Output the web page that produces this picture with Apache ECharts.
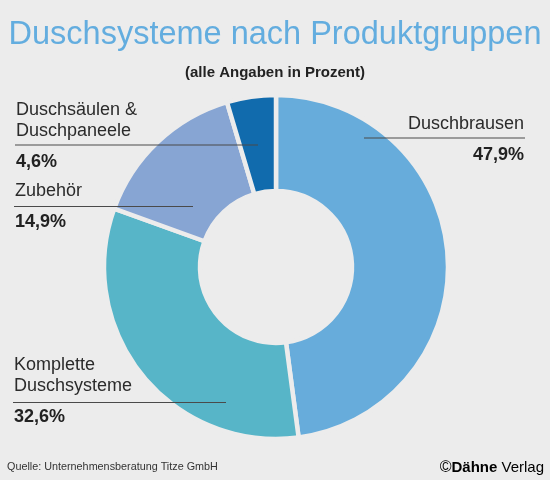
<!DOCTYPE html>
<html>
<head>
<meta charset="utf-8">
<title>Duschsysteme nach Produktgruppen</title>
<script src="https://cdn.jsdelivr.net/npm/echarts@6/dist/echarts.min.js"></script>
<style>
  html, body { margin: 0; padding: 0; background: #ececec; }
  #chart { width: 550px; height: 480px; }
</style>
</head>
<body>
<div id="chart"></div>
<script>
// Daten (im Uhrzeigersinn ab 12 Uhr)
var categories = ['Duschbrausen', 'Komplette\nDuschsysteme', 'Zubehör', 'Duschsäulen &\nDuschpaneele'];
var values = [47.9, 32.6, 14.9, 4.6];
var colors = ['#67acdb', '#57b5c8', '#87a5d3', '#116bad'];

// Position der Beschriftungen: [x, oben, Ausrichtung, Linie y, Linie von x, Linie bis x]
var labelPos = [
  [524, 113.5, 'right', 138, 364, 525],
  [14, 355, 'left', 402.5, 226, 13],
  [15, 181, 'left', 206.5, 193, 14],
  [16, 99.5, 'left', 145, 258, 15]
];

function fmt(v) {
  return v.toFixed(1).replace('.', ',') + '%';
}

var pieData = categories.map(function (c, i) {
  return { name: c, value: values[i] };
});

var chart = echarts.init(document.getElementById('chart'));

chart.setOption({
  backgroundColor: '#ececec',
  animation: false,
  title: {
    text: 'Duschsysteme nach Produktgruppen',
    subtext: '(alle Angaben in Prozent)',
    left: 'center',
    top: 14,
    itemGap: 13,
    textStyle: {
      fontFamily: 'Liberation Sans',
      fontSize: 32.5,
      fontWeight: 'normal',
      color: '#63addf'
    },
    subtextStyle: {
      fontFamily: 'Liberation Sans',
      fontSize: 15,
      fontWeight: 'bold',
      color: '#222'
    }
  },
  graphic: [
    {
      type: 'text',
      left: 7,
      top: 462,
      style: {
        text: 'Quelle: Unternehmensberatung Titze GmbH',
        font: '10.8px "Liberation Sans"',
        fill: '#333'
      }
    },
    {
      type: 'text',
      right: 6,
      top: 460,
      style: {
        text: '{c|©}{d|Dähne}{v| Verlag}',
        rich: {
          c: { fontFamily: 'Liberation Sans', fontSize: 16, color: '#555' },
          d: { fontFamily: 'Liberation Sans', fontSize: 15, fontWeight: 'bold', color: '#b8143c' },
          v: { fontFamily: 'Liberation Sans', fontSize: 15, color: '#6b6b6b' }
        }
      }
    }
  ],
  series: [
    {
      // Ringsegmente
      type: 'pie',
      z: 2,
      center: [276, 267],
      radius: [76, 172],
      startAngle: 90,
      clockwise: true,
      itemStyle: {
        borderColor: '#ececec',
        borderWidth: 4.5
      },
      label: { show: false },
      labelLine: { show: false },
      data: pieData.map(function (d, i) {
        return { name: d.name, value: d.value, itemStyle: { color: colors[i] } };
      })
    },
    {
      // Beschriftungen mit Linien über den Segmenten
      type: 'pie',
      z: 5,
      silent: true,
      center: [276, 267],
      radius: [76, 172],
      startAngle: 90,
      clockwise: true,
      itemStyle: { color: 'rgba(0,0,0,0)', borderWidth: 0 },
      emphasis: { disabled: true },
      label: {
        show: true,
        width: 220,
        overflow: 'none',
        formatter: function (p) {
          var lines = p.name.split('\n').map(function (s) { return '{n|' + s + '}'; });
          return lines.join('\n') + '\n{v|' + fmt(p.value) + '}';
        },
        rich: {
          n: { fontFamily: 'Liberation Sans', fontSize: 18, lineHeight: 21, color: '#2b2b2b' },
          v: { fontFamily: 'Liberation Sans', fontSize: 18, fontWeight: 'bold', lineHeight: 31, color: '#222', padding: [10, 0, 0, 0] }
        }
      },
      labelLine: {
        show: true,
        lineStyle: { color: '#4a4a4a', width: 1.2 }
      },
      labelLayout: function (params) {
        var lp = labelPos[params.dataIndex];
        return {
          x: lp[0],
          y: lp[1],
          align: lp[2],
          verticalAlign: 'top',
          labelLinePoints: [[lp[4], lp[3]], [lp[5], lp[3]], [lp[5], lp[3]]]
        };
      },
      data: pieData
    }
  ]
});
</script>
</body>
</html>
